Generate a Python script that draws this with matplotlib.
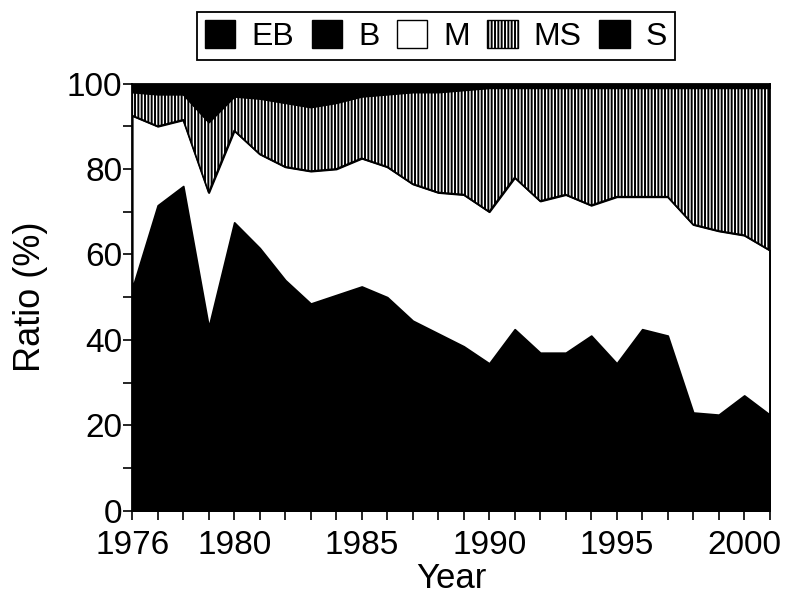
import numpy as np
import matplotlib
matplotlib.use("Agg")
import matplotlib.pyplot as plt
from matplotlib.patches import Patch
from matplotlib.ticker import MultipleLocator

plt.rcParams["font.family"] = ["Liberation Sans", "DejaVu Sans"]
plt.rcParams["hatch.linewidth"] = 1.4

# Ratio (%) per year
years = list(range(1976, 2002))
eb = [8, 10, 12, 6, 10, 9, 8, 7, 7, 8, 7, 6, 6, 5, 5, 6, 5, 5, 6, 5, 6, 6, 3, 3, 4, 3]
b = [44, 61.5, 64, 37, 57.5, 52.5, 46, 41.5, 43.5, 44.5, 43, 38.5, 35.5, 33.5,
     29.5, 36.5, 32, 32, 35, 29.5, 36.5, 35, 20, 19.5, 23, 19.5]
m = [40.5, 18.5, 15.5, 31.5, 21.5, 22, 26.5, 31, 29.5, 30, 30.5, 32, 33, 35.5,
     35.5, 35.5, 35.5, 37, 30.5, 39, 31, 32.5, 44, 43, 37.5, 38.5]
ms = [5.5, 7.5, 6, 16.5, 8, 13, 15, 15, 15.5, 14.5, 17, 21.5, 23.5, 24.5,
      29, 21, 26.5, 25, 27.5, 25.5, 25.5, 25.5, 32, 33.5, 34.5, 38]
s = [2, 2.5, 2.5, 9, 3, 3.5, 4.5, 5.5, 4.5, 3, 2.5, 2, 2, 1.5, 1, 1, 1, 1, 1,
     1, 1, 1, 1, 1, 1, 1]

labels = ["EB", "B", "M", "MS", "S"]
faces = ["black", "black", "white", "white", "black"]
hatches = [None, None, None, "|||||", None]

fig = plt.figure(figsize=(7.87, 6.01), dpi=100)
ax = fig.add_axes([0.168, 0.150, 0.810, 0.711])

x = np.array(years)
base = np.zeros(len(years))
for vals, fc, h in zip([eb, b, m, ms, s], faces, hatches):
    top = base + np.array(vals)
    ax.fill_between(x, base, top, facecolor=fc, edgecolor="black",
                    hatch=h, linewidth=1.3, zorder=2)
    base = top

ax.set_xlim(1976, 2001)
ax.set_ylim(0, 100)
ax.set_xticks([1976, 1980, 1985, 1990, 1995, 2000])
ax.xaxis.set_minor_locator(MultipleLocator(1))
ax.yaxis.set_major_locator(MultipleLocator(20))
ax.yaxis.set_minor_locator(MultipleLocator(10))
ax.tick_params(which="both", direction="out", length=6.5, width=1.2,
               labelsize=24, color="black")
ax.tick_params(axis="y", pad=0.5)
ax.tick_params(axis="x", pad=7)
for sp in ax.spines.values():
    sp.set_linewidth(1.3)
ax.set_xlabel("Year", fontsize=25, labelpad=1)
ax.set_ylabel("Ratio (%)", fontsize=26, labelpad=14)

handles = [Patch(facecolor=fc, edgecolor="black", hatch=h, linewidth=1.0)
           for fc, h in zip(faces, hatches)]
leg = fig.legend(handles, labels, loc="center", bbox_to_anchor=(0.554, 0.940),
                 ncol=5, fontsize=23, handlelength=0.95, handleheight=0.95,
                 handletextpad=0.5, columnspacing=0.55, borderpad=0.25,
                 borderaxespad=0, fancybox=False, framealpha=1,
                 edgecolor="black")
leg.get_frame().set_linewidth(1.3)

fig.savefig("out.png", dpi=100)
